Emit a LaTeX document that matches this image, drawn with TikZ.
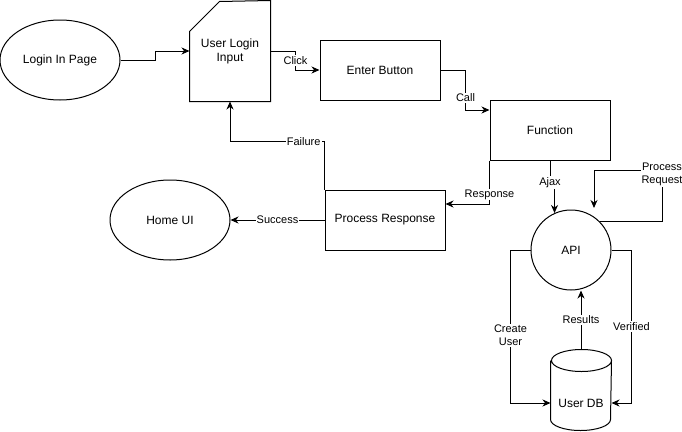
\documentclass[tikz,border=0pt]{standalone}
\usepackage{fontspec}
\setmainfont{Liberation Sans}
\usetikzlibrary{arrows.meta}
\usetikzlibrary{calc}
\usetikzlibrary{shapes.geometric}
\tikzset{
	every node/.style={font=\fontsize{12}{14}\selectfont},
	box/.style={draw, rectangle, minimum width=120pt, minimum height=60pt, inner sep=0pt},
	oval/.style={draw, ellipse, minimum width=120pt, minimum height=80pt, inner sep=0pt},
	flow/.style={->, >={Stealth[length=8pt, width=7pt, inset=2.5pt]}},
	elabel/.style={fill=white, inner sep=1pt, font=\fontsize{11}{13}\selectfont},
}

\begin{document}
\begin{tikzpicture}[x=1pt, y=-1pt, line width=1pt]
		\useasboundingbox (0,0) rectangle (682,431);
		\node[oval] (page) at (60,60) {Login In Page};
		\node[minimum width=80pt, minimum height=100pt, inner sep=0pt, align=center] (input) at (230,51) {User Login\\Input};
		\draw (input.south west) -- ++(0,-70) -- ++(30,-30) -- (input.north east) -- (input.south east) -- cycle;
		\node[box] (enter) at (380,70) {Enter Button};
		\node[box] (func) at (550,130) {Function};
		\node[box] (proc) at (385,220) {Process Response};
		\node[oval] (home) at (170,220) {Home UI};
		\node[draw, circle, minimum size=80pt, inner sep=0pt] (api) at (571,250) {API};
		\node[minimum width=60pt, minimum height=80pt, inner sep=0pt] (db) at (581,390) {};
		\draw ([yshift=-11pt]db.north west) -- ([yshift=11pt]db.south west) arc[start angle=180, end angle=360, x radius=30pt, y radius=11pt] -- ([yshift=-11pt]db.north east) arc[start angle=0, end angle=360, x radius=30pt, y radius=11pt];
		\node (dbtext) at ([yshift=-13pt]db.center) {User DB};
		\coordinate (preq) at (662,170);
		\coordinate (reqin) at (594,208);
		\draw[flow] (page.east) -- ++(35,0) |- (input.west);
		\draw[flow] (input.east) -- ++(25,0) |- node[elabel, pos=0.25] {Click} (enter.west);
		\draw[flow] (enter.east) -- ++(25,0) |- node[elabel, pos=0.35] {Call} ([yshift=20pt]func.west);
		\draw[flow] (func.south) -- ++(0,22) node[elabel] {Ajax} -| (api.114);
		\draw[flow] (api.45) -| node[elabel, align=center, pos=0.96] {Process\\Request} (preq) -| (reqin);
		\draw[flow] (func.south west) |- node[elabel, pos=0.39] {Response} ([yshift=16pt]proc.east);
		\draw[flow] (proc.north west) -- ++(0,-48) -| node[elabel, pos=0.11] {Failure} (input.south);
		\draw[flow] (proc.west) -- node[elabel] {Success} (home.east);
		\draw[flow] (db.north) -- node[elabel] {Results} (api.south -| db.north);
		\draw[flow] (api.west) -- ++(-20,0) |- node[elabel, align=center, pos=0.28] {Create\\User} ([yshift=-13pt]db.west);
		\draw[flow] (api.east) -- ++(20,0) |- node[elabel, pos=0.25] {Verified} ([yshift=-13pt]db.east);
	\end{tikzpicture}
\end{document}
